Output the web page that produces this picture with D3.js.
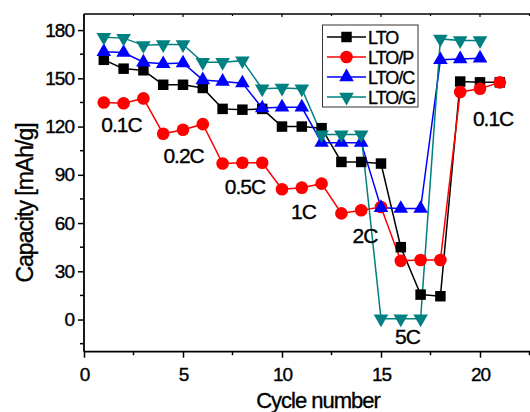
<!DOCTYPE html>
<html>
<head>
<meta charset="utf-8">
<script src="https://cdn.jsdelivr.net/npm/d3@7/dist/d3.min.js"></script>
<style>
  html, body { margin: 0; padding: 0; background: #fff; }
  svg { display: block; }
  text { font-family: "Liberation Sans", Arial, sans-serif; fill: #000; stroke: #000; stroke-width: 0.35px; }
</style>
</head>
<body>
<svg id="chart" width="530" height="412"></svg>
<script>
// ---- Data ----
const cyclesLong = [1,2,3,4,5,6,7,8,9,10,11,12,13,14,15,16,17,18,19,20,21];
const cyclesShort = [1,2,3,4,5,6,7,8,9,10,11,12,13,14,15,16,17,18,19,20];
const ltoValues  = [161.5,156,155,146,146,144,131,130.5,131,120,120,119,98,98,97,45,15.5,14.5,148,147.5,147.5];
const ltoPValues = [135,134.5,137.5,115.5,118,121.5,97,97.5,97.5,81,82,84.5,66,68,70,36.5,37,37,141.5,143.5,147.5];
const ltoCValues = [166.5,166,160,159,159.5,149,148,147,131.5,132,132,110,110,110,69.5,69,69,161.5,162,162.5];
const ltoGValues = [175.5,175,170.5,171,171,160,160,161,143.5,144,143.5,115,115,115,0.5,0.5,0.5,174.5,173.5,173.5];
const seriesNames = ["LTO","LTO/P","LTO/C","LTO/G"];
const xTicks = [0,5,10,15,20];
const yTicks = [0,30,60,90,120,150,180];
const rateLabels = ["0.1C","0.2C","0.5C","1C","2C","5C","0.1C"];
const rateLabelX = [1.89,5.03,8.13,11.08,14.19,16.34,20.66];
const rateLabelY = [116.6,97.3,78,62.5,47.6,-15.2,120.3];

(function () {
const series = [
  {name: seriesNames[0], x: cyclesLong,  y: ltoValues,  color: "#000000", symbol: d3.symbolSquare,   size: 110, rot: 0},
  {name: seriesNames[1], x: cyclesLong,  y: ltoPValues, color: "#ff0000", symbol: d3.symbolCircle,   size: 125, rot: 0},
  {name: seriesNames[2], x: cyclesShort, y: ltoCValues, color: "#0000ff", symbol: d3.symbolTriangle, size: 92,  rot: 0},
  {name: seriesNames[3], x: cyclesShort, y: ltoGValues, color: "#008080", symbol: d3.symbolTriangle, size: 92,  rot: 180}
];

// ---- Layout ----
const svg = d3.select("#chart");
const mLeft = 84, mTop = 14, mBottom = 351.7, unit = 19.8;
const x = d3.scaleLinear().domain([0, 23]).range([mLeft, mLeft + 23 * unit]);
const y = d3.scaleLinear().domain([-20, 190]).range([mBottom, mTop]);
const mRight = x(23);

// ---- Data lines and markers ----
const line = d3.line().x(d => x(d[0])).y(d => y(d[1]));
const g = svg.append("g");
series.forEach(s => {
  const pts = s.x.map((c, i) => [c, s.y[i]]);
  g.append("path").datum(pts)
    .attr("fill", "none").attr("stroke", s.color).attr("stroke-width", 1.5)
    .attr("d", line);
});
series.forEach(s => {
  const pts = s.x.map((c, i) => [c, s.y[i]]);
  g.selectAll(null).data(pts).enter().append("path")
    .attr("d", d3.symbol().type(s.symbol).size(s.size))
    .attr("fill", s.color)
    .attr("transform", d => `translate(${x(d[0])},${y(d[1])}) rotate(${s.rot})`);
});

// ---- Axes ----
const axisG = svg.append("g");
const xAxis = d3.axisBottom(x).tickValues(xTicks).tickSize(6).tickFormat(d3.format("d"));
const xa = axisG.append("g").attr("transform", `translate(0,${mBottom})`).call(xAxis);
xa.select(".domain").remove();
xa.selectAll(".tick line").attr("stroke", "#000").attr("stroke-width", 1.5);
xa.selectAll(".tick text").attr("font-size", 19).attr("letter-spacing", "-1px")
  .attr("font-family", "Liberation Sans, Arial, sans-serif").attr("fill", "#000").attr("dy", "1.05em");
const xMinor = d3.range(2.5, 23, 5);
axisG.selectAll(null).data(xMinor).enter().append("line")
  .attr("x1", d => x(d)).attr("x2", d => x(d)).attr("y1", mBottom).attr("y2", mBottom + 3.5)
  .attr("stroke", "#000").attr("stroke-width", 1.5);
axisG.selectAll(null).data(d3.range(0, 23, 2.5)).enter().append("line")
  .attr("x1", d => x(d)).attr("x2", d => x(d)).attr("y1", mTop).attr("y2", d => mTop + (d % 5 === 0 ? 3 : 2))
  .attr("stroke", "#000").attr("stroke-width", 1.2);

const yAxis = d3.axisLeft(y).tickValues(yTicks).tickSize(6).tickFormat(d3.format("d"));
const ya = axisG.append("g").attr("transform", `translate(${mLeft},0)`).call(yAxis);
ya.select(".domain").remove();
ya.selectAll(".tick line").attr("stroke", "#000").attr("stroke-width", 1.5);
ya.selectAll(".tick text").attr("font-size", 19).attr("letter-spacing", "-1px")
  .attr("font-family", "Liberation Sans, Arial, sans-serif").attr("fill", "#000").attr("x", -10);
const yMinor = d3.range(-15, 190, 30);
axisG.selectAll(null).data(yMinor).enter().append("line")
  .attr("x1", mLeft - 4).attr("x2", mLeft).attr("y1", d => y(d)).attr("y2", d => y(d))
  .attr("stroke", "#000").attr("stroke-width", 1.5);

axisG.append("line").attr("x1", mLeft).attr("x2", mRight).attr("y1", mBottom).attr("y2", mBottom)
  .attr("stroke", "#000").attr("stroke-width", 1.8);
axisG.append("line").attr("x1", mLeft).attr("x2", mRight).attr("y1", mTop).attr("y2", mTop)
  .attr("stroke", "#000").attr("stroke-width", 1.5);
axisG.append("line").attr("x1", mLeft).attr("x2", mLeft).attr("y1", mTop).attr("y2", mBottom)
  .attr("stroke", "#000").attr("stroke-width", 1.8);

svg.append("text").attr("x", 318).attr("y", 408).attr("text-anchor", "middle")
  .attr("font-size", 22).attr("letter-spacing", "-1px").text("Cycle number");
svg.append("text").attr("transform", "translate(33,203) rotate(-90)").attr("text-anchor", "middle")
  .attr("font-size", 23).attr("letter-spacing", "-1px").text("Capacity [mAh/g]");

svg.selectAll(null).data(rateLabels).enter().append("text")
  .attr("x", (d, i) => x(rateLabelX[i])).attr("y", (d, i) => y(rateLabelY[i]))
  .attr("text-anchor", "middle").attr("font-size", 21).attr("letter-spacing", "-1px")
  .text(d => d);

const lg = svg.append("g");
lg.append("rect").attr("x", 322.5).attr("y", 25).attr("width", 95.5).attr("height", 82)
  .attr("fill", "#fff").attr("stroke", "#333").attr("stroke-width", 1);
series.forEach((s, i) => {
  const cy = 37 + i * 20;
  lg.append("line").attr("x1", 327).attr("x2", 366).attr("y1", cy).attr("y2", cy)
    .attr("stroke", s.color).attr("stroke-width", 1.5);
  lg.append("path").attr("d", d3.symbol().type(s.symbol).size(s.size))
    .attr("fill", s.color).attr("transform", `translate(346.5,${cy}) rotate(${s.rot})`);
  lg.append("text").attr("x", 368).attr("y", cy + 6.5).attr("font-size", 18)
    .attr("letter-spacing", "-1px").text(s.name);
});
})();
</script>
</body>
</html>
